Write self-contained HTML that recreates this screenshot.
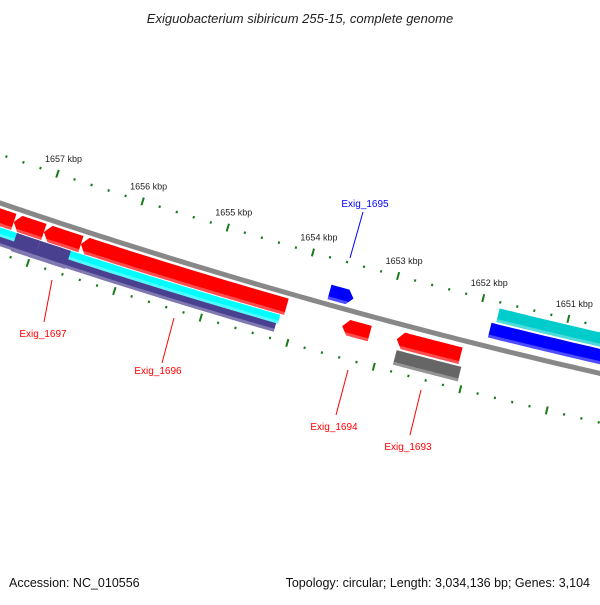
<!DOCTYPE html>
<html><head><meta charset="utf-8"><style>
body{margin:0;background:#fff;width:600px;height:600px;overflow:hidden}
svg text{font-family:"Liberation Sans","DejaVu Sans",sans-serif}
</style></head><body>
<svg id="map" width="600" height="600" viewBox="0 0 600 600" xmlns="http://www.w3.org/2000/svg">
<text x="300" y="23" text-anchor="middle" font-size="13" font-style="italic" fill="#222">Exiguobacterium sibiricum 255-15, complete genome</text>
<text x="9" y="587" font-size="12.5" fill="#111">Accession: NC_010556</text>
<text x="590" y="587" text-anchor="end" font-size="12.5" fill="#111">Topology: circular; Length: 3,034,136 bp; Genes: 3,104</text>
<g id="g"></g>
</svg>
<script>
const tickKbp=[1657,1656,1655,1654,1653,1652,1651];
const featStart=[1657.8,1657.29,1656.94,1656.51,1657.8,1657.22,1656.95,1656.59,1657.8,1653.70,1653.46,1652.83,1652.80,1651.79,1651.84];
const featEnd=[1657.29,1656.94,1656.51,1654.12,1657.22,1656.95,1656.59,1654.16,1654.18,1653.42,1653.14,1652.09,1652.05,1650.3,1650.3];
const featD1=[5,5,5,5,23,23,23,23,32,-20,9,7,26,-40,-24];
const featD2=[22,22,22,22,32,42,42,32,41,-5,25,24,41,-26,-9];
const featColor=['#ff0000','#ff0000','#ff0000','#ff0000','#00ffff','#4a4090','#4a4090','#00ffff','#4a4090','#0000ff','#ff0000','#ff0000','#666666','#00cccc','#0000ff'];
const featArrow=[-1,-1,-1,-1,0,0,0,0,0,1,-1,-1,0,0,0];
const geneLabels=['Exig_1697','Exig_1696','Exig_1695','Exig_1694','Exig_1693'];
const geneLabelColor=['#f00','#f00','#00f','#f00','#f00'];
const NS='http://www.w3.org/2000/svg';
const g=document.getElementById('g');
function px(k){return 43+(1657-k)*85.8;}
function by(x){return 203+0.34*x-0.0000933*x*x;}
function pt(x,d){const s=0.34-0.000187*x;const th=Math.atan(s);return [x-d*Math.sin(th),by(x)+d*Math.cos(th)];}
function mk(tag,attrs){const e=document.createElementNS(NS,tag);for(const k in attrs)e.setAttribute(k,attrs[k]);g.appendChild(e);return e;}
function band(x1,x2,d1,d2,arrow){
  const a=[],b=[];const n=20;
  let s1=x1,s2=x2;if(arrow<0)s1=x1+6;if(arrow>0)s2=x2-6;
  for(let i=0;i<=n;i++){const x=s1+(s2-s1)*i/n;a.push(pt(x,d1));b.push(pt(x,d2));}
  let pts=[];
  if(arrow<0)pts.push(pt(x1,(d1+d2)/2));
  pts=pts.concat(a);
  if(arrow>0)pts.push(pt(x2,(d1+d2)/2));
  pts=pts.concat(b.reverse());
  return pts.map(p=>p[0].toFixed(1)+','+p[1].toFixed(1)).join(' ');
}
let bb=[];for(let x=-10;x<=610;x+=10)bb.push(pt(x,0));
let e=mk('polyline',{points:bb.map(p=>p.join(',')).join(' '),fill:'none',stroke:'#888',"stroke-width":5});


for(let i=0;i<=37;i++){
  const k=1657.8-i*0.2;const x=px(k);const major=Math.abs(k-Math.round(k))<0.01;
  [-46,48].forEach(d=>{
    const L=major?4:1.2;const p1=pt(x,d-L),p2=pt(x,d+L);
    const t=mk('line',{x1:p1[0],y1:p1[1],x2:p2[0],y2:p2[1],stroke:'#1a7a1a',"stroke-width":2});
    
    
  });
}
tickKbp.forEach(k=>{
  const p=pt(px(k),-46);
  const t=mk('text',{x:p[0]+6,y:p[1]-12,"text-anchor":"middle","font-size":9,fill:'#222'});
  t.textContent=k+' kbp';
  
  
});
for(let i=0;i<featStart.length;i++){
  const x1=px(featStart[i]),x2=px(featEnd[i]);
  const f=mk('polygon',{points:band(x1,x2,featD1[i],featD2[i],featArrow[i]),fill:featColor[i]});
  
  
  const h=mk('polygon',{points:band(x1,x2,featD2[i]-3,featD2[i],featArrow[i]),fill:'#fff',"fill-opacity":0.3});
  
  
}
const lab=[[43,333,52,280,44,322],[158,370,174,318,162,363],[365,207,363,212,350,258],[334,426,348,370,336,415],[408,446,421,390,410,435]];
lab.forEach((L,i)=>{
  const ln=mk('line',{x1:L[2],y1:L[3],x2:L[4],y2:L[5],stroke:geneLabelColor[i],"stroke-width":1});
  
  
  const t=mk('text',{x:L[0],y:L[1]+(i==2?0:4),"text-anchor":"middle","font-size":10,fill:geneLabelColor[i]});
  t.textContent=geneLabels[i];
  
  
});
</script>
</body></html>
